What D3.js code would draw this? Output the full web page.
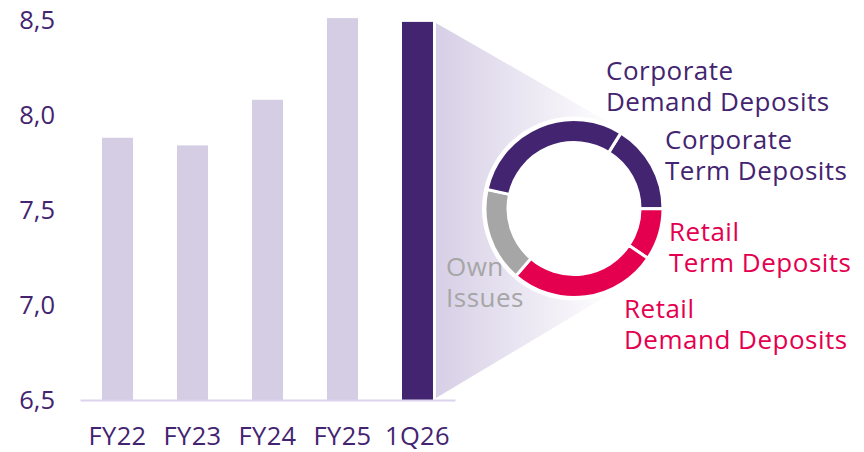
<!DOCTYPE html>
<html><head><meta charset="utf-8">
<script src="https://cdn.jsdelivr.net/npm/d3@7"></script>
<style>
html,body{margin:0;padding:0;background:#fff;}
svg{display:block;font-family:"Open Sans",sans-serif;}
</style></head>
<body><svg id="c" width="864" height="452"></svg>
<script>
// ---- data ----
const categories = ["FY22", "FY23", "FY24", "FY25", "1Q26"];
const values = [7.88, 7.84, 8.08, 8.51, 8.49];
const yTicks = [6.5, 7.0, 7.5, 8.0, 8.5];
const segNames = ["Corporate Term Deposits", "Retail Term Deposits", "Retail Demand Deposits", "Own Issues", "Corporate Demand Deposits"];
const segValues = [16.2, 9.4, 26.9, 17.1, 30.4];
const segStartDeg = 31.8;

// ---- style ----
const PURPLE = "#432470", LIGHT = "#d5cde3", PINK = "#e4004f", GREY = "#a6a6a6", AXIS = "#dcd4ee";
const segColors = [PURPLE, PINK, PINK, GREY, PURPLE];
const FS = 25.5, LFS = 26;

const svg = d3.select("#c");
const x = d3.scaleBand().domain(categories).range([80, 455]).paddingInner(0.587).paddingOuter(0.2935);
const y = d3.scaleLinear().domain([6.5, 8.5]).range([400, 20]);

// wedge with gradient
const cx = 574, cy = 208.5, R = 89, r = 66;
const defs = svg.append("defs");
const grad = defs.append("linearGradient").attr("id", "g").attr("gradientUnits", "userSpaceOnUse")
  .attr("x1", 436).attr("y1", 0).attr("x2", 615).attr("y2", 0);
grad.append("stop").attr("offset", 0).attr("stop-color", "#d7cfe6");
grad.append("stop").attr("offset", 1).attr("stop-color", "#ffffff");

const last = categories[categories.length - 1];
const wx = x(last) + x.bandwidth() + 3;
const topY = y(values[values.length - 1]) + 1, botY = y(6.5) - 2;
function tangent(px, py, sign) {
  const dx = cx - px, dy = cy - py, d = Math.hypot(dx, dy);
  const a = Math.atan2(dy, dx) + sign * Math.asin((R + 3) / d);
  const L = Math.sqrt(d * d - (R + 3) * (R + 3));
  return [px + L * Math.cos(a), py + L * Math.sin(a)];
}
const t1 = tangent(wx, topY, -1), t2 = tangent(wx, botY, 1);
svg.append("path").attr("d", `M${wx},${topY}L${t1[0]},${t1[1]}L${cx},${cy}L${t2[0]},${t2[1]}L${wx},${botY}Z`)
  .attr("fill", "url(#g)");

// bars
svg.selectAll("rect.bar").data(categories).join("rect").attr("class", "bar")
  .attr("x", d => x(d)).attr("width", x.bandwidth())
  .attr("y", (d, i) => y(values[i])).attr("height", (d, i) => y(6.5) - y(values[i]))
  .attr("fill", (d, i) => i === categories.length - 1 ? PURPLE : LIGHT);

// axes
const fmt = v => d3.format(".1f")(v).replace(".", ",");
const ya = svg.append("g").attr("transform", "translate(62,0)")
  .call(d3.axisLeft(y).tickValues(yTicks).tickFormat(fmt).tickSize(0).tickPadding(7));
ya.select(".domain").remove();
ya.selectAll("text").attr("fill", PURPLE).style("font-size", FS + "px").style("font-family", "Open Sans");

const xa = svg.append("g").attr("transform", "translate(0,400)")
  .call(d3.axisBottom(x).tickSize(0).tickPadding(27));
xa.select(".domain").attr("stroke", AXIS).attr("stroke-width", 2);
xa.selectAll("text").attr("fill", PURPLE).style("font-size", FS + "px").style("font-family", "Open Sans")
  .style("letter-spacing", "0.3px");

// donut
const g = svg.append("g").attr("transform", `translate(${cx},${cy})`);
g.append("circle").attr("r", R + 3).attr("fill", "#fff");
const pie = d3.pie().sort(null).startAngle(segStartDeg * Math.PI / 180).endAngle(segStartDeg * Math.PI / 180 + 2 * Math.PI);
const arc = d3.arc().innerRadius(r).outerRadius(R);
g.selectAll("path").data(pie(segValues)).join("path")
  .attr("d", arc).attr("fill", (d, i) => segColors[i])
  .attr("stroke", "#fff").attr("stroke-width", 3);

// labels
const labels = [
  {lines: ["Corporate", "Demand Deposits"], x: 606, y: 80, c: PURPLE},
  {lines: ["Corporate", "Term Deposits"], x: 665, y: 149, c: PURPLE},
  {lines: ["Retail", "Term Deposits"], x: 669, y: 241, c: PINK},
  {lines: ["Retail", "Demand Deposits"], x: 624, y: 318, c: PINK},
  {lines: ["Own", "Issues"], x: 446, y: 276, c: GREY}
];
labels.forEach(l => {
  const t = svg.append("text").attr("x", l.x).attr("y", l.y).attr("fill", l.c)
    .style("font-size", LFS + "px").style("letter-spacing", "0.5px");
  l.lines.forEach((s, i) => t.append("tspan").attr("x", l.x).attr("dy", i ? 31 : 0).text(s));
});
</script></body></html>
